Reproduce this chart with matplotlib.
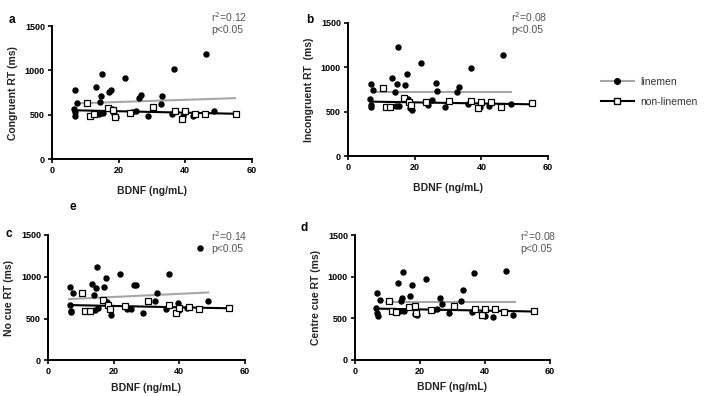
import numpy as np
import matplotlib
matplotlib.use('Agg')
import matplotlib.pyplot as plt
from matplotlib.lines import Line2D

plt.rcParams['font.family'] = ['Liberation Sans', 'DejaVu Sans']

# BDNF values (ng/mL) for each group
lm_x = [6.6, 6.8, 6.9, 7.0, 7.6, 13.3, 14.0, 14.3, 14.6, 14.9, 15.2, 17.0, 17.6, 17.9, 18.6, 19.2,
        21.8, 24.0, 25.2, 26.3, 26.7, 29.0, 32.7, 33.2, 36.0, 36.8, 39.5, 40.0, 42.4, 46.4, 48.8]
nl_x = [10.5, 11.4, 12.7, 16.7, 18.4, 18.9, 23.5, 30.4, 36.9, 39.0, 40.0, 43.0, 46.0, 55.2]

# reaction times (ms), linemen
lm_cong = [570, 781, 531, 492, 637, 809, 512, 641, 707, 957, 520, 754, 785, 570, 512, 473,
           914, 531, 539, 695, 727, 484, 621, 707, 512, 1020, 492, 531, 484, 1187, 539]
lm_incong = [643, 808, 575, 557, 745, 876, 718, 568, 808, 1233, 568, 801, 925, 639, 545, 519,
             1045, 575, 632, 820, 737, 557, 718, 782, 583, 989, 557, 594, 564, 1139, 587]
lm_nocue = [661, 878, 575, 590, 799, 909, 779, 600, 862, 1114, 622, 878, 980, 693, 640, 547,
            1035, 614, 614, 897, 901, 567, 712, 799, 614, 1027, 681, 600, 625, 1345, 705]
lm_centre = [627, 798, 560, 528, 714, 924, 583, 706, 745, 1051, 583, 766, 904, 630, 555, 540,
             972, 595, 614, 738, 666, 560, 706, 837, 575, 1043, 567, 527, 508, 1063, 539]

# reaction times (ms), non-linemen
nl_cong = [637, 492, 504, 582, 560, 473, 520, 590, 543, 453, 543, 504, 504, 512]
nl_incong = [763, 549, 549, 651, 613, 575, 613, 624, 620, 545, 613, 613, 557, 594]
nl_nocue = [799, 594, 594, 724, 660, 614, 645, 712, 661, 567, 630, 634, 614, 626]
nl_centre = [706, 583, 571, 634, 647, 567, 595, 647, 615, 535, 615, 615, 575, 587]

# regression line end points
lm_fit_x = [[8, 55], [7.9, 48.9], [6.4, 48.8], [9.5, 49.3]]
lm_fit_y = [[630, 688], [718, 718], [732, 811], [698, 698]]
nl_fit_x = [[7.5, 55.3], [7.1, 55.1], [6.4, 55.4], [6.3, 56]]
nl_fit_y = [[551, 512], [613, 583], [661, 622], [615, 579]]

ylabels = ['Congruent RT (ms)', 'Incongruent RT  (ms)', 'No cue RT (ms)', 'Centre cue RT (ms)']
stats = ['r$^2$=0.12\np<0.05', 'r$^2$=0.08\np<0.05', 'r$^2$=0.14\np<0.05', 'r$^2$=0.08\np<0.05']
letters = ['a', 'b', 'c', 'd']

lm_y = [lm_cong, lm_incong, lm_nocue, lm_centre]
nl_y = [nl_cong, nl_incong, nl_nocue, nl_centre]

fig = plt.figure(figsize=(7.08, 3.96), dpi=100)
rects = [[0.0734, 0.598, 0.282, 0.336],
         [0.4915, 0.606, 0.2825, 0.336],
         [0.0678, 0.09, 0.278, 0.317],
         [0.5014, 0.092, 0.275, 0.314]]
xpads = [8, 8, 5, 5]
letter_pos = [(0.012, 0.965), (0.432, 0.965), (0.008, 0.425), (0.424, 0.44)]
stat_pos = [(0.298, 0.975), (0.722, 0.975), (0.298, 0.42), (0.735, 0.42)]

gray = '#a6a6a6'
for i in range(4):
    ax = fig.add_axes(rects[i])
    ax.plot(lm_fit_x[i], lm_fit_y[i], color=gray, lw=1.5, zorder=2)
    ax.plot(nl_fit_x[i], nl_fit_y[i], color='black', lw=1.5, zorder=2)
    ax.plot(lm_x, lm_y[i], 'o', color='black', ms=3.6, zorder=3)
    ax.plot(nl_x, nl_y[i], 's', mfc='white', mec='black', mew=0.9, ms=4.2, zorder=4)
    ax.set_xlim(0, 60)
    ax.set_ylim(0, 1500)
    ax.set_xticks([0, 20, 40, 60])
    ax.set_yticks([0, 500, 1000, 1500])
    ax.spines['top'].set_visible(False)
    ax.spines['right'].set_visible(False)
    ax.spines['left'].set_linewidth(1.4)
    ax.spines['bottom'].set_linewidth(1.4)
    ax.tick_params(width=1.2, length=3, labelsize=6.5, pad=2)
    for lab in ax.get_xticklabels() + ax.get_yticklabels():
        lab.set_fontweight('bold')
    ax.set_xlabel('BDNF (ng/mL)', fontsize=7.5, fontweight='bold', color='#222222',
                  labelpad=xpads[i])
    ax.set_ylabel(ylabels[i], fontsize=7.5, fontweight='bold', color='#222222', labelpad=5)
    fig.text(letter_pos[i][0], letter_pos[i][1], letters[i], fontsize=8.5, fontweight='bold',
             va='top')
    fig.text(stat_pos[i][0], stat_pos[i][1], stats[i], fontsize=7.5, color='#555555',
             va='top', linespacing=1.1)

fig.text(0.098, 0.492, 'e', fontsize=8.5, fontweight='bold', va='top')

handles = [Line2D([], [], color=gray, lw=1.5, marker='o', mfc='black', mec='black', ms=4),
           Line2D([], [], color='black', lw=1.5, marker='s', mfc='white', mec='black', ms=4)]
leg = fig.legend(handles, ['linemen', 'non-linemen'], loc='center left',
                 bbox_to_anchor=(0.835, 0.768), frameon=False, fontsize=7.5,
                 handlelength=3.2, labelspacing=1.0, handletextpad=0.6)
for t in leg.get_texts():
    t.set_color('#333333')

fig.savefig('out.png', dpi=100)
